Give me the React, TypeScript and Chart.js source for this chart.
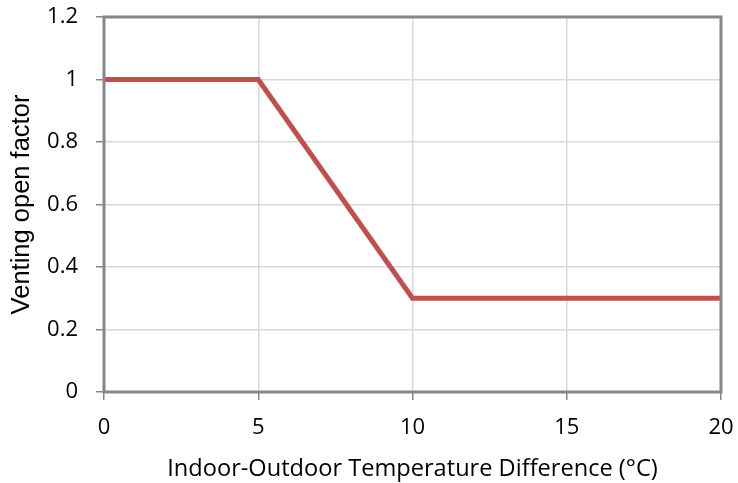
import React, { useEffect, useRef } from "react";
import { Chart, registerables } from "chart.js";

Chart.register(...registerables);

const tempDiff = [0, 5, 10, 20];
const openFactor = [1, 1, 0.3, 0.3];
const xTicks = [0, 5, 10, 15, 20];
const yTicks = [0, 0.2, 0.4, 0.6, 0.8, 1, 1.2];

const boxPlugin = {
  id: "box",
  afterDatasetsDraw(chart: any) {
    const { ctx, chartArea: a } = chart;
    ctx.save();
    ctx.strokeStyle = "#878787";
    ctx.lineWidth = 3;
    ctx.strokeRect(a.left, a.top, a.right - a.left, a.bottom - a.top);
    ctx.restore();
  },
};

const zeroPad = (s: any) => {
  s.paddingTop = 0;
  s.paddingBottom = 0;
  s.paddingLeft = 0;
  s.paddingRight = 0;
};

export default function App() {
  const ref = useRef<HTMLCanvasElement>(null);
  useEffect(() => {
    const chart = new Chart(ref.current!, {
      type: "scatter",
      data: {
        datasets: [
          {
            data: tempDiff.map((x, i) => ({ x, y: openFactor[i] })),
            showLine: true,
            borderColor: "#c0504d",
            borderWidth: 5,
            pointRadius: 0,
            tension: 0,
          },
        ],
      },
      options: {
        animation: false,
        responsive: false,
        events: [],
        layout: { padding: { top: 17, right: 17, left: 0, bottom: 0 } },
        plugins: { legend: { display: false }, tooltip: { enabled: false } },
        scales: {
          x: {
            type: "linear",
            min: 0,
            max: 20,
            afterBuildTicks: (s: any) => {
              s.ticks = xTicks.map((v) => ({ value: v }));
            },
            afterFit: (s: any) => {
              s.height = 91;
              zeroPad(s);
            },
            grid: { color: "#d9d9d9", tickColor: "#878787", tickLength: 8, lineWidth: 1.5 },
            border: { display: false },
            ticks: {
              color: "#000",
              font: { family: "Open Sans", size: 22 },
              padding: 15,
              maxRotation: 0,
            },
            title: {
              display: true,
              text: "Indoor-Outdoor Temperature Difference (°C)",
              color: "#000",
              font: { family: "Open Sans", size: 23.6 },
              padding: { top: 0, bottom: 0 },
            },
          },
          y: {
            type: "linear",
            min: 0,
            max: 1.2,
            afterBuildTicks: (s: any) => {
              s.ticks = yTicks.map((v) => ({ value: v }));
            },
            afterFit: (s: any) => {
              s.width = 104;
              zeroPad(s);
            },
            grid: { color: "#d9d9d9", tickColor: "#878787", tickLength: 8, lineWidth: 1.5 },
            border: { display: false },
            ticks: {
              color: "#000",
              font: { family: "Open Sans", size: 22 },
              padding: 18,
              callback: (v: any) => String(Math.round(v * 10) / 10),
            },
            title: {
              display: true,
              text: "Venting open factor",
              color: "#000",
              font: { family: "Liberation Sans", size: 25.5 },
              padding: { top: 7, bottom: 0 },
            },
          },
        },
      },
      plugins: [boxPlugin],
    });
    return () => chart.destroy();
  }, []);
  return (
    <div style={{ position: "fixed", left: 0, top: 0, width: 738, height: 483, background: "#fff" }}>
      <canvas ref={ref} width={738} height={483} style={{ width: 738, height: 483 }} />
    </div>
  );
}
